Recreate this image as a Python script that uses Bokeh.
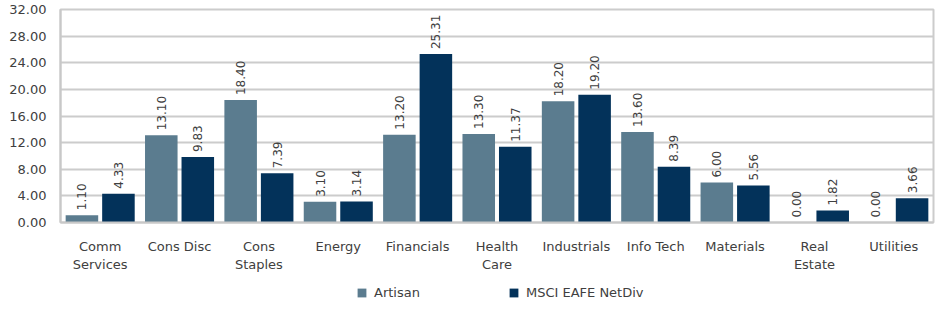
from bokeh.plotting import figure
from bokeh.layouts import column
from bokeh.models import ColumnDataSource, FactorRange, Range1d, NumeralTickFormatter, Legend, LegendItem, FixedTicker
from bokeh.transform import dodge
from bokeh.core.properties import value
from bokeh.embed import file_html
from bokeh.resources import INLINE
import math

categories = ["Comm\nServices", "Cons Disc", "Cons\nStaples", "Energy", "Financials",
              "Health\nCare", "Industrials", "Info Tech", "Materials", "Real\nEstate", "Utilities"]
artisan = [1.10, 13.10, 18.40, 3.10, 13.20, 13.30, 18.20, 13.60, 6.00, 0.00, 0.00]
msci = [4.33, 9.83, 7.39, 3.14, 25.31, 11.37, 19.20, 8.39, 5.56, 1.82, 3.66]
y_ticks = [0, 4, 8, 12, 16, 20, 24, 28, 32]
series_names = ["Artisan", "MSCI EAFE NetDiv"]

FONT = "DejaVu Sans"
TXT = "#404040"
C1 = "#5B7C8F"
C2 = "#03325A"

src = ColumnDataSource(dict(
    cat=categories, a=artisan, m=msci,
    al=["%.2f" % v for v in artisan], ml=["%.2f" % v for v in msci]))

p = figure(width=935, height=274, x_range=FactorRange(*categories, range_padding=0),
           y_range=Range1d(0, 32), output_backend="svg", toolbar_location=None,
           min_border_left=60, min_border_right=2, min_border_top=9, min_border_bottom=46)

p.vbar(x=dodge("cat", -0.23, range=p.x_range), top="a", width=0.41, source=src,
       fill_color=C1, line_color=None)
p.vbar(x=dodge("cat", 0.23, range=p.x_range), top="m", width=0.41, source=src,
       fill_color=C2, line_color=None)

for xo, col in ((-0.23, "al"), (0.23, "ml")):
    p.text(x=dodge("cat", xo, range=p.x_range), y=col[0], text=col, source=src, angle=math.pi / 2,
           text_align="left", text_baseline="middle", y_offset=-5,
           text_font=value(FONT), text_font_size="12px", text_color=TXT)

p.yaxis.ticker = FixedTicker(ticks=y_ticks)
p.yaxis.formatter = NumeralTickFormatter(format="0.00")
p.yaxis.major_tick_line_color = None
p.yaxis.minor_tick_line_color = None
p.yaxis.axis_line_color = "#c8c8c8"
p.yaxis.axis_line_width = 2
p.yaxis.major_label_text_font = FONT
p.yaxis.major_label_text_font_size = "13px"
p.yaxis.major_label_text_color = TXT
p.yaxis.major_label_standoff = 8

p.xaxis.major_tick_line_color = None
p.xaxis.minor_tick_line_color = None
p.xaxis.axis_line_color = "#c8c8c8"
p.xaxis.axis_line_width = 2
p.xaxis.major_label_text_font = FONT
p.xaxis.major_label_text_font_size = "13px"
p.xaxis.major_label_text_color = TXT
p.xaxis.major_label_standoff = 10

p.xgrid.grid_line_color = None
p.ygrid.grid_line_color = "#cccccc"
p.ygrid.grid_line_width = 2
p.outline_line_color = "#cccccc"
p.outline_line_width = 2

# legend strip: same series drawn into an out-of-view y range, used only for the legend swatches
lg = figure(width=935, height=30, x_range=p.x_range, y_range=Range1d(100, 101),
            output_backend="svg", toolbar_location=None,
            min_border_left=0, min_border_right=0, min_border_top=0, min_border_bottom=0)
lg.axis.visible = False
lg.grid.visible = False
lg.outline_line_color = None
e1 = lg.vbar(x=dodge("cat", -0.23, range=p.x_range), top="a", width=0.41, source=src,
             fill_color=C1, line_color=None)
e2 = lg.vbar(x=dodge("cat", 0.23, range=p.x_range), top="m", width=0.41, source=src,
             fill_color=C2, line_color=None)
legend = Legend(items=[LegendItem(label=series_names[0], renderers=[e1]),
                       LegendItem(label=series_names[1], renderers=[e2])],
                orientation="horizontal", location=(296, 4),
                label_text_font=FONT, label_text_font_size="13px", label_text_color=TXT,
                glyph_width=11, glyph_height=11, spacing=88, border_line_color=None,
                background_fill_alpha=0, margin=0, padding=2, label_standoff=7,
                label_height=15)
lg.add_layout(legend, "center")

open("out.html", "w").write(file_html(column(p, lg, spacing=0), INLINE))
